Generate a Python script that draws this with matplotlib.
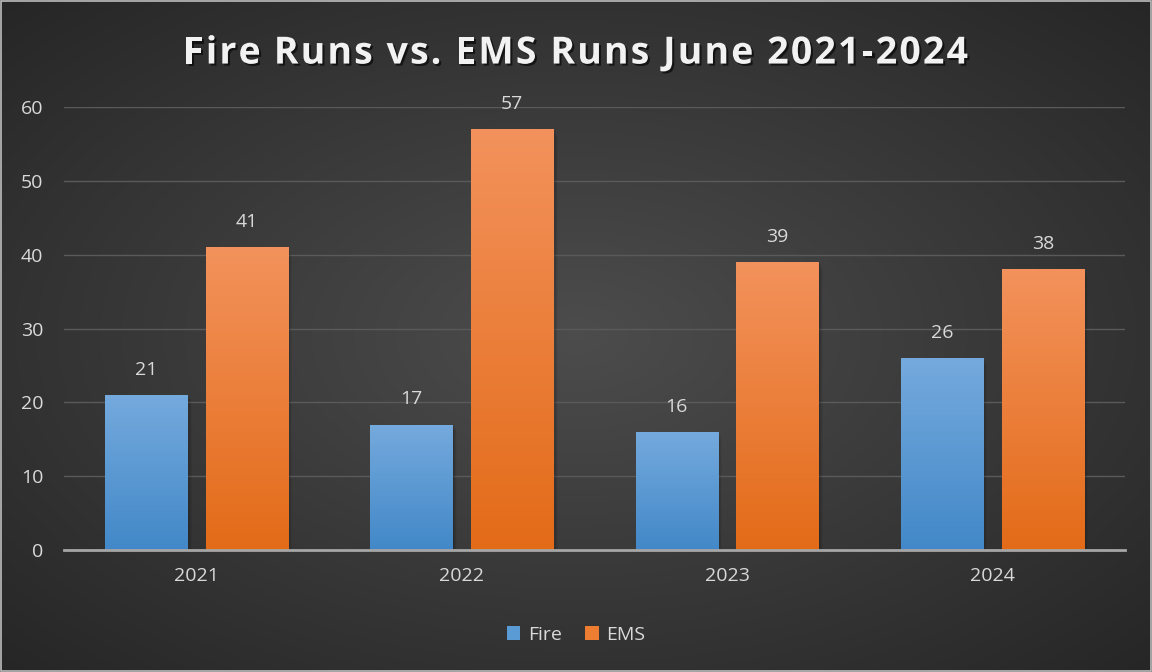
import numpy as np
import matplotlib.pyplot as plt
import matplotlib.patheffects as pe
from matplotlib.patches import Rectangle
from matplotlib.font_manager import FontProperties

years = ["2021", "2022", "2023", "2024"]
fire = [21, 17, 16, 26]
ems = [41, 57, 39, 38]
yticks = [0, 10, 20, 30, 40, 50, 60]
title = "Fire Runs vs. EMS Runs June 2021-2024"

plt.rcParams['font.family'] = ['Open Sans', 'DejaVu Sans']

fig = plt.figure(figsize=(11.52, 6.72), dpi=100)

# dark radial background
bg = fig.add_axes([0, 0, 1, 1], zorder=-10)
yy, xx = np.mgrid[0:1:300j, 0:1:500j]
r = np.sqrt(((xx - 0.5) / 0.75) ** 2 + ((yy - 0.5) / 0.75) ** 2)
r = np.clip(r, 0, 1)
shade = 0.30 - 0.16 * r
bg.imshow(np.dstack([shade] * 3), extent=[0, 1, 0, 1], aspect='auto')
bg.set_xlim(0, 1)
bg.set_ylim(0, 1)
bg.axis('off')
fig.patches.append(Rectangle((0.001, 0.001), 0.998, 0.997, transform=fig.transFigure,
                             fill=False, edgecolor='#bdbdbd', lw=1.2))

ax = fig.add_axes([0.0556, 0.1815, 0.921, 0.6593])
ax.set_facecolor('none')
ax.set_xlim(0, 4)
ax.set_ylim(0, 60)

def grad_bar(x0, w, h, top, bottom):
    # soft shadow down-right
    for k, a in enumerate([0.10, 0.08, 0.06, 0.04]):
        d = 0.004 + 0.004 * k
        ax.add_patch(Rectangle((x0 + d, -0.6), w, h + 0.6 - 0.3 * k, facecolor='black',
                               alpha=a, lw=0, zorder=1))
    t = np.linspace(0, 1, 200)[:, None]
    top = np.array(top) / 255
    bottom = np.array(bottom) / 255
    img = top * (1 - t[..., None]) + bottom * t[..., None]
    im = ax.imshow(img, extent=[x0, x0 + w, 0, h], aspect='auto', zorder=2, interpolation='bilinear')
    rect = Rectangle((x0, 0), w, h, transform=ax.transData, fc='none', lw=0)
    ax.add_patch(rect)
    im.set_clip_path(rect)

w = 0.31
off = 0.19
for i in range(len(years)):
    c = i + 0.5
    grad_bar(c - off - w / 2, w, fire[i], (117, 170, 221), (66, 136, 200))
    grad_bar(c + off - w / 2, w, ems[i], (243, 146, 92), (227, 107, 24))
    ax.text(c - off, fire[i] + 2.2, str(fire[i]), ha='center', va='bottom',
            color='#d9d9d9', fontsize=14)
    ax.text(c + off, ems[i] + 2.2, str(ems[i]), ha='center', va='bottom',
            color='#d9d9d9', fontsize=14)

ax.set_xlim(0, 4)
ax.set_ylim(0, 60)
ax.set_yticks(yticks)
ax.set_xticks([i + 0.5 for i in range(len(years))])
ax.set_xticklabels(years)
ax.grid(axis='y', color='#5a5a5a', lw=1, zorder=0)
ax.set_axisbelow(True)
for s in ['top', 'right', 'left']:
    ax.spines[s].set_visible(False)
ax.spines['bottom'].set_color('#a6a6a6')
ax.spines['bottom'].set_linewidth(2)
ax.spines['bottom'].set_zorder(5)
ax.tick_params(length=0, colors='#d9d9d9', labelsize=14)
ax.tick_params(axis='x', pad=12)
ax.tick_params(axis='y', pad=15)

# title with extra letter spacing, one glyph at a time
renderer = fig.canvas.get_renderer()
tprop = FontProperties(family=['Open Sans', 'DejaVu Sans'], weight='bold', size=27)
def text_w(s):
    return renderer.get_text_width_height_descent(s, tprop, ismath=False)[0]
track = 2.1
wI = text_w('I')
xs = [text_w(title[:i] + 'I') - wI + i * track for i in range(len(title))]
total = text_w(title) + track * (len(title) - 1)
x_start = 575.5 - total / 2
shadow = [pe.withSimplePatchShadow(offset=(1.5, -1.5), shadow_rgbFace='black', alpha=0.6)]
for ch, x in zip(title, xs):
    if ch == ' ':
        continue
    fig.text((x_start + x) / 1152, 0.927, ch, ha='left', va='center_baseline',
             color='#f2f2f2', fontproperties=tprop, path_effects=shadow)

# legend
handles = [Rectangle((0, 0), 1, 1, fc='#5b9bd5'), Rectangle((0, 0), 1, 1, fc='#ed7d31')]
leg = fig.legend(handles, ['Fire', 'EMS'], loc='center', bbox_to_anchor=(0.5, 0.055), ncol=2,
                 frameon=False, fontsize=14, handlelength=0.7, handleheight=0.7,
                 handletextpad=0.4, columnspacing=1.2)
for t in leg.get_texts():
    t.set_color('#d9d9d9')

fig.savefig('out.png', dpi=100)
